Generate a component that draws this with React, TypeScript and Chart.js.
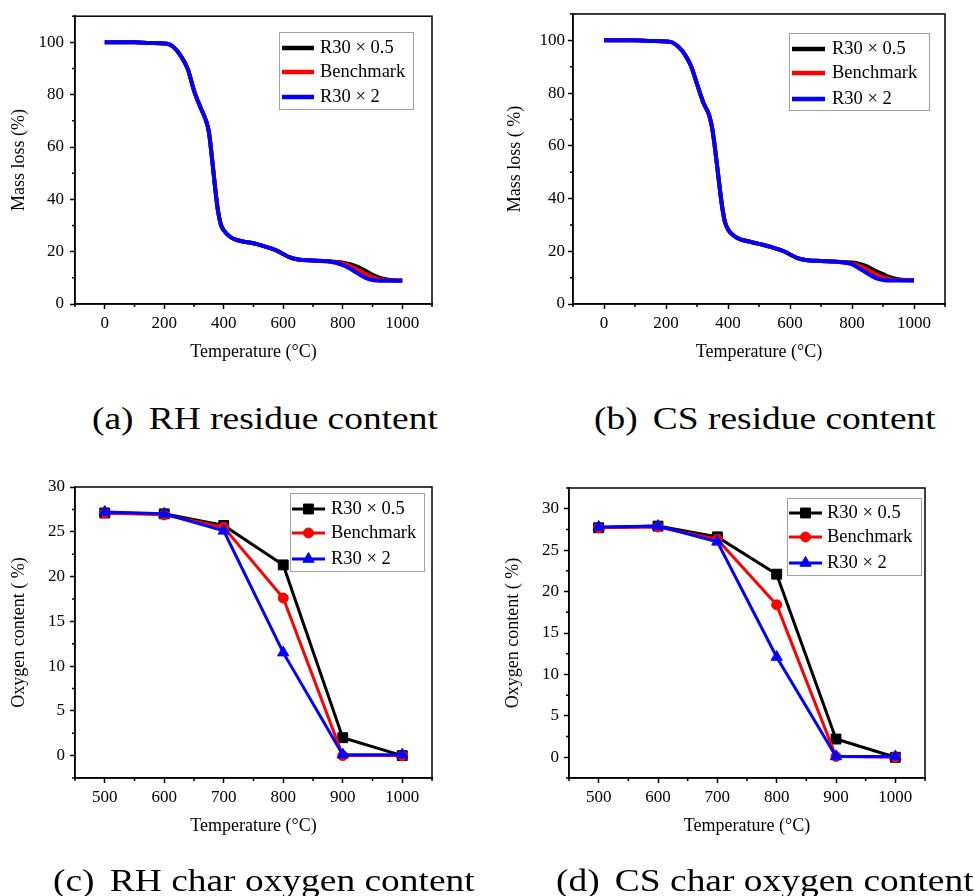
import React, { useEffect, useRef } from 'react';
import { Chart, registerables } from 'chart.js';
Chart.register(...registerables);

const FONT = '"Liberation Serif", "Times New Roman", serif';

// ---------- Data ----------
const tgaTemps = [0, 50, 100, 150, 200, 220, 240, 260, 280, 300, 320, 340, 350, 360, 370, 380, 390, 400, 420, 440, 460, 500, 540, 580, 600, 620, 650, 700, 750, 800, 825, 850, 875, 900, 925, 950, 975, 1000];

const rhMassHalf = [100, 100, 100, 99.8, 99.6, 99.1, 97.2, 94.0, 89.5, 81.6, 75.6, 70.2, 65.8, 56.3, 45.5, 36.0, 30.5, 28.2, 25.8, 24.6, 24.0, 23.2, 21.9, 20.3, 19.1, 17.9, 17.0, 16.6, 16.3, 15.8, 15.2, 14.2, 12.8, 11.2, 10.0, 9.4, 9.1, 9.0];
const rhMassBench = [100, 100, 100, 99.8, 99.6, 99.1, 97.2, 94.0, 89.5, 81.6, 75.6, 70.2, 65.8, 56.3, 45.5, 36.0, 30.5, 28.2, 25.8, 24.6, 24.0, 23.2, 21.9, 20.3, 19.1, 17.9, 17.0, 16.6, 16.3, 15.4, 14.5, 13.2, 11.6, 10.2, 9.4, 9.1, 9.0, 9.0];
const rhMassDouble = [100, 100, 100, 99.8, 99.6, 99.1, 97.2, 94.0, 89.5, 81.6, 75.6, 70.2, 65.8, 56.3, 45.5, 36.0, 30.5, 28.2, 25.8, 24.6, 24.0, 23.2, 21.9, 20.3, 19.1, 17.9, 17.0, 16.6, 16.3, 14.9, 13.5, 11.7, 10.1, 9.2, 8.9, 8.9, 8.9, 8.9];

const csMassHalf = [100, 100, 100, 99.8, 99.6, 99.2, 97.6, 94.8, 90.5, 83.5, 76.5, 71.3, 66.0, 57.2, 47.3, 37.8, 31.2, 28.3, 25.8, 24.5, 23.9, 22.8, 21.6, 20.0, 18.8, 17.6, 16.7, 16.3, 16.0, 15.7, 15.2, 14.2, 12.6, 11.3, 10.1, 9.4, 9.1, 9.0];
const csMassBench = [100, 100, 100, 99.8, 99.6, 99.2, 97.6, 94.8, 90.5, 83.5, 76.5, 71.3, 66.0, 57.2, 47.3, 37.8, 31.2, 28.3, 25.8, 24.5, 23.9, 22.8, 21.6, 20.0, 18.8, 17.6, 16.7, 16.3, 16.0, 15.3, 14.4, 13.0, 11.4, 10.1, 9.4, 9.1, 9.0, 9.0];
const csMassDouble = [100, 100, 100, 99.8, 99.6, 99.2, 97.6, 94.8, 90.5, 83.5, 76.5, 71.3, 66.0, 57.2, 47.3, 37.8, 31.2, 28.3, 25.8, 24.5, 23.9, 22.8, 21.6, 20.0, 18.8, 17.6, 16.7, 16.3, 16.0, 15.0, 13.4, 11.6, 9.9, 9.1, 8.9, 8.9, 8.9, 8.9];

const oxTemps = [500, 600, 700, 800, 900, 1000];
const rhOxHalf = [27.1, 27.0, 25.7, 21.3, 2.0, 0.0];
const rhOxBench = [27.1, 26.9, 25.5, 17.6, 0.0, 0.0];
const rhOxDouble = [27.2, 27.0, 25.1, 11.5, 0.1, 0.1];
const csOxHalf = [27.7, 27.9, 26.6, 22.1, 2.2, 0.0];
const csOxBench = [27.7, 27.8, 26.3, 18.4, 0.1, 0.0];
const csOxDouble = [27.8, 27.9, 26.0, 12.1, 0.1, 0.1];

const seriesLabels = ['R30 \u00d7 0.5', 'Benchmark', 'R30 \u00d7 2'];
const seriesColors = ['#000000', '#ff0000', '#0000ff'];
const seriesMarkers = ['rect', 'circle', 'triangle'];

const tgaXTicks = [0, 200, 400, 600, 800, 1000];
const tgaXMinor = [-100, 100, 300, 500, 700, 900, 1100];
const tgaYTicks = [0, 20, 40, 60, 80, 100];
const tgaYMinor = [10, 30, 50, 70, 90, 110];
const oxXTicks = [500, 600, 700, 800, 900, 1000];
const oxXMinor = [450, 550, 650, 750, 850, 950, 1050];
const oxYTicks = [0, 5, 10, 15, 20, 25, 30];
const oxYMinorRH = [-2.5, 2.5, 7.5, 12.5, 17.5, 22.5, 27.5];
const oxYMinorCS = [-2.5, 2.5, 7.5, 12.5, 17.5, 22.5, 27.5, 32.5];

const markerRadius: Record<string, number> = { rect: 7, circle: 5, triangle: 6.5 };

function drawMarker(ctx: CanvasRenderingContext2D, style: string, x: number, y: number, r: number) {
  ctx.beginPath();
  if (style === 'rect') {
    const s = Math.SQRT1_2 * r;
    ctx.rect(x - s, y - s, 2 * s, 2 * s);
  } else if (style === 'circle') {
    ctx.arc(x, y, r, 0, Math.PI * 2);
  } else {
    let rad = 0;
    ctx.moveTo(x + Math.sin(rad) * r, y - Math.cos(rad) * r);
    rad += (2 * Math.PI) / 3;
    ctx.lineTo(x + Math.sin(rad) * r, y - Math.cos(rad) * r);
    rad += (2 * Math.PI) / 3;
    ctx.lineTo(x + Math.sin(rad) * r, y - Math.cos(rad) * r);
    ctx.closePath();
  }
  ctx.fill();
  ctx.stroke();
}

type PanelCfg = {
  left: number; top: number; w: number; h: number;
  area: { l: number; t: number; r: number; b: number };
  xScaleH: number; xTitlePad: number; yTitlePad: number; yTickPad: number;
  xs: number[]; values: number[][];
  xMin: number; xMax: number; yMin: number; yMax: number;
  xTicks: number[]; xMinor: number[]; yTicks: number[]; yMinor: number[];
  yTitle: string; markers: boolean; lineWidth: number;
  legend: { x: number; y: number; w: number; h: number; lx0: number; lx1: number; tx: number; rows: number[] };
};

function Panel({ cfg }: { cfg: PanelCfg }) {
  const ref = useRef<HTMLCanvasElement>(null);
  useEffect(() => {
    const a = cfg.area;
    const framePlugin = {
      id: 'frameLegend',
      afterDraw(chart: any) {
        const { ctx, chartArea: ca, scales } = chart;
        ctx.save();
        ctx.strokeStyle = '#000';
        ctx.lineWidth = 1.5;
        ctx.strokeRect(ca.left, ca.top, ca.right - ca.left, ca.bottom - ca.top);
        ctx.beginPath();
        cfg.xMinor.forEach((v) => {
          const px = scales.x.getPixelForValue(v);
          ctx.moveTo(px, ca.bottom);
          ctx.lineTo(px, ca.bottom + 3);
        });
        cfg.yMinor.forEach((v) => {
          const py = scales.y.getPixelForValue(v);
          ctx.moveTo(ca.left - 3, py);
          ctx.lineTo(ca.left, py);
        });
        ctx.stroke();
        // legend
        const L = cfg.legend;
        ctx.fillStyle = '#fff';
        ctx.fillRect(L.x, L.y, L.w, L.h);
        ctx.strokeStyle = '#a0a0a0';
        ctx.lineWidth = 1;
        ctx.strokeRect(L.x + 0.5, L.y + 0.5, L.w, L.h);
        seriesLabels.forEach((lab, i) => {
          const y = L.rows[i];
          ctx.strokeStyle = seriesColors[i];
          ctx.fillStyle = seriesColors[i];
          ctx.lineWidth = cfg.markers ? 3 : 4.5;
          ctx.beginPath();
          ctx.moveTo(L.lx0, y);
          ctx.lineTo(L.lx1, y);
          ctx.stroke();
          if (cfg.markers) {
            ctx.lineWidth = 1;
            drawMarker(ctx, seriesMarkers[i], (L.lx0 + L.lx1) / 2, y, markerRadius[seriesMarkers[i]]);
          }
          ctx.fillStyle = '#000';
          ctx.font = `18.5px ${FONT}`;
          ctx.textBaseline = 'middle';
          ctx.textAlign = 'left';
          ctx.fillText(lab, L.tx, y);
        });
        ctx.restore();
      },
    };

    const datasets = cfg.values.map((vals, i) => ({
      label: seriesLabels[i],
      data: cfg.xs.map((x, j) => ({ x, y: vals[j] })),
      borderColor: seriesColors[i],
      backgroundColor: seriesColors[i],
      borderWidth: cfg.lineWidth,
      pointRadius: cfg.markers ? markerRadius[seriesMarkers[i]] : 0,
      pointStyle: seriesMarkers[i],
      pointBorderWidth: 1,
      pointBorderColor: seriesColors[i],
      pointBackgroundColor: seriesColors[i],
      cubicInterpolationMode: cfg.markers ? 'default' : 'monotone',
      tension: 0,
      order: 3 - i,
    }));

    const chart = new Chart(ref.current!, {
      type: 'line',
      data: { datasets } as any,
      options: {
        responsive: false,
        animation: false,
        devicePixelRatio: 1,
        layout: {
          padding: { left: 0, top: a.t, right: cfg.w - a.r, bottom: cfg.h - a.b - cfg.xScaleH },
        },
        plugins: { legend: { display: false }, tooltip: { enabled: false } },
        scales: {
          x: {
            type: 'linear',
            min: cfg.xMin,
            max: cfg.xMax,
            afterBuildTicks: (s: any) => { s.ticks = cfg.xTicks.map((v) => ({ value: v })); },
            afterFit: (s: any) => { s.height = cfg.xScaleH; },
            grid: { display: true, drawOnChartArea: false, drawTicks: true, tickLength: 5, tickColor: '#000', tickWidth: 1.5 },
            border: { display: true, color: '#000', width: 1.5 },
            ticks: { color: '#000', font: { family: FONT, size: 17 }, padding: 4, maxRotation: 0, autoSkip: false, callback: (v: any) => String(v) },
            title: { display: true, text: 'Temperature (\u00b0C)', color: '#000', font: { family: FONT, size: 18 }, padding: { top: 0, bottom: cfg.xTitlePad } },
          },
          y: {
            type: 'linear',
            min: cfg.yMin,
            max: cfg.yMax,
            afterBuildTicks: (s: any) => { s.ticks = cfg.yTicks.map((v) => ({ value: v })); },
            afterFit: (s: any) => { s.width = a.l; },
            grid: { display: true, drawOnChartArea: false, drawTicks: true, tickLength: 5, tickColor: '#000', tickWidth: 1.5 },
            border: { display: true, color: '#000', width: 1.5 },
            ticks: { color: '#000', font: { family: FONT, size: 17 }, padding: cfg.yTickPad, autoSkip: false, callback: (v: any) => String(v) },
            title: { display: true, text: cfg.yTitle, color: '#000', font: { family: FONT, size: 18 }, padding: { top: cfg.yTitlePad, bottom: 0 } },
          },
        },
      } as any,
      plugins: [framePlugin],
    });
    return () => chart.destroy();
  }, [cfg]);
  return (
    <canvas
      ref={ref}
      width={cfg.w}
      height={cfg.h}
      style={{ position: 'absolute', left: cfg.left, top: cfg.top, width: cfg.w, height: cfg.h }}
    />
  );
}

const panelA: PanelCfg = {
  left: 0, top: 0, w: 487, h: 380,
  area: { l: 75, t: 14, r: 432, b: 304 },
  xScaleH: 60, xTitlePad: 1.2, yTitlePad: 8, yTickPad: 6,
  xs: tgaTemps, values: [rhMassHalf, rhMassBench, rhMassDouble],
  xMin: -100, xMax: 1100, yMin: 0, yMax: 110,
  xTicks: tgaXTicks, xMinor: tgaXMinor, yTicks: tgaYTicks, yMinor: tgaYMinor,
  yTitle: 'Mass loss (%)', markers: false, lineWidth: 4,
  legend: { x: 279, y: 32, w: 134, h: 77, lx0: 282, lx1: 314, tx: 320, rows: [48, 72, 97] },
};
const panelB: PanelCfg = {
  left: 487, top: 0, w: 488, h: 380,
  area: { l: 86, t: 14, r: 458, b: 304 },
  xScaleH: 60, xTitlePad: 1.2, yTitlePad: 17, yTickPad: 3,
  xs: tgaTemps, values: [csMassHalf, csMassBench, csMassDouble],
  xMin: -100, xMax: 1100, yMin: 0, yMax: 110,
  xTicks: tgaXTicks, xMinor: tgaXMinor, yTicks: tgaYTicks, yMinor: tgaYMinor,
  yTitle: 'Mass loss ( %)', markers: false, lineWidth: 4,
  legend: { x: 302, y: 33, w: 140, h: 77, lx0: 305, lx1: 338, tx: 345, rows: [49, 73, 99] },
};
const panelC: PanelCfg = {
  left: 0, top: 440, w: 487, h: 440,
  area: { l: 75, t: 47, r: 432, b: 338 },
  xScaleH: 61, xTitlePad: 1.5, yTitlePad: 8, yTickPad: 5,
  xs: oxTemps, values: [rhOxHalf, rhOxBench, rhOxDouble],
  xMin: 450, xMax: 1050, yMin: -2.5, yMax: 30,
  xTicks: oxXTicks, xMinor: oxXMinor, yTicks: oxYTicks, yMinor: oxYMinorRH,
  yTitle: 'Oxygen content ( %)', markers: true, lineWidth: 3,
  legend: { x: 290, y: 53, w: 134, h: 78, lx0: 292, lx1: 325, tx: 331, rows: [69, 93, 119] },
};
const panelD: PanelCfg = {
  left: 487, top: 440, w: 488, h: 440,
  area: { l: 82, t: 48, r: 438, b: 338 },
  xScaleH: 61, xTitlePad: 1.5, yTitlePad: 15, yTickPad: 5,
  xs: oxTemps, values: [csOxHalf, csOxBench, csOxDouble],
  xMin: 450, xMax: 1050, yMin: -2.5, yMax: 32.5,
  xTicks: oxXTicks, xMinor: oxXMinor, yTicks: oxYTicks, yMinor: oxYMinorCS,
  yTitle: 'Oxygen content ( %)', markers: true, lineWidth: 3,
  legend: { x: 300, y: 58, w: 134, h: 77, lx0: 302, lx1: 335, tx: 340, rows: [73, 97, 123] },
};

const captions = [
  { tag: '(a)', text: 'RH residue content', left: 92, top: 402 },
  { tag: '(b)', text: 'CS residue content', left: 594, top: 402 },
  { tag: '(c)', text: 'RH char oxygen content', left: 53, top: 864 },
  { tag: '(d)', text: 'CS char oxygen content', left: 556, top: 864 },
];

export default function App() {
  return (
    <div style={{ position: 'absolute', left: 0, top: 0, width: 975, height: 896, background: '#fff', overflow: 'hidden' }}>
      <Panel cfg={panelA} />
      <Panel cfg={panelB} />
      <Panel cfg={panelC} />
      <Panel cfg={panelD} />
      {captions.map((c) => (
        <div
          key={c.tag}
          style={{
            position: 'absolute', left: c.left, top: c.top, fontFamily: FONT, fontSize: 32, lineHeight: '32px',
            whiteSpace: 'pre', color: '#000', transform: 'scaleX(1.17)', transformOrigin: 'left top',
          }}
        >
          <span>{c.tag}</span>
          <span style={{ marginLeft: 13 }}>{c.text}</span>
        </div>
      ))}
    </div>
  );
}
